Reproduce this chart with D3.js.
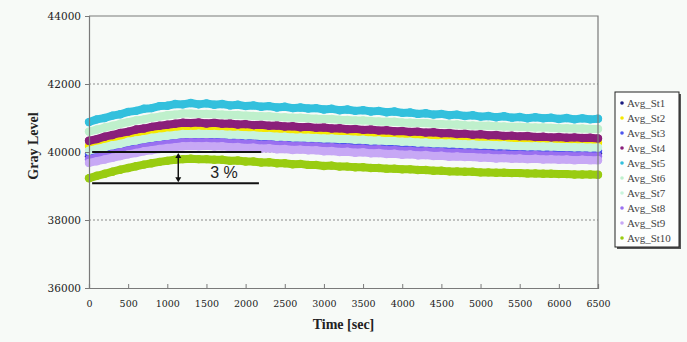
<!DOCTYPE html>
<html>
<head>
<meta charset="utf-8">
<script src="https://cdn.jsdelivr.net/npm/d3@7"></script>
<style>
  html, body { margin: 0; padding: 0; background: #f7faf7; }
  svg { display: block; }
</style>
</head>
<body>
<div id="chart"></div>
<script>
// time axis, one reading every 100 s
const times = d3.range(0, 6501, 100);

const seriesNames = ['Avg_St1', 'Avg_St2', 'Avg_St3', 'Avg_St4', 'Avg_St5',
  'Avg_St6', 'Avg_St7', 'Avg_St8', 'Avg_St9', 'Avg_St10'];
const seriesColors = ['#1a1a80', '#f5e800', '#4d55ee', '#8a1f7a', '#33c0dd',
  '#bff0cc', '#c8f4dc', '#9a70f0', '#c7a8f5', '#99cc11'];

const st1 = [39870, 39920, 39980, 40030, 40080, 40130, 40170, 40220, 40250, 40290, 40320, 40340, 40370, 40380, 40370, 40380, 40360, 40370, 40340, 40350, 40320, 40330, 40300, 40310, 40280, 40290, 40260, 40270, 40250, 40250, 40220, 40230, 40200, 40210, 40180, 40190, 40160, 40170, 40140, 40150, 40120, 40130, 40100, 40110, 40080, 40090, 40060, 40070, 40050, 40050, 40030, 40030, 40010, 40020, 40000, 40010, 39990, 40000, 39980, 39990, 39970, 39980, 39960, 39970, 39960, 39960];
const st2 = [40180, 40230, 40290, 40340, 40390, 40440, 40480, 40520, 40560, 40590, 40620, 40650, 40670, 40680, 40680, 40670, 40670, 40660, 40650, 40650, 40630, 40630, 40610, 40610, 40590, 40590, 40570, 40570, 40560, 40550, 40540, 40540, 40520, 40520, 40500, 40500, 40480, 40480, 40460, 40460, 40440, 40440, 40420, 40420, 40400, 40400, 40390, 40380, 40370, 40370, 40350, 40350, 40340, 40340, 40320, 40320, 40310, 40310, 40300, 40300, 40290, 40290, 40280, 40280, 40270, 40270];
const st3 = [39950, 40000, 40060, 40110, 40160, 40210, 40250, 40300, 40330, 40370, 40400, 40420, 40450, 40460, 40450, 40460, 40440, 40450, 40420, 40430, 40400, 40410, 40380, 40390, 40360, 40370, 40340, 40350, 40330, 40330, 40300, 40310, 40280, 40290, 40260, 40270, 40240, 40250, 40220, 40230, 40200, 40210, 40180, 40190, 40160, 40170, 40140, 40150, 40130, 40130, 40110, 40110, 40090, 40100, 40080, 40090, 40070, 40080, 40060, 40070, 40050, 40060, 40040, 40050, 40040, 40040];
const st4 = [40330, 40380, 40450, 40500, 40560, 40600, 40660, 40690, 40740, 40770, 40800, 40830, 40860, 40850, 40870, 40840, 40860, 40830, 40840, 40810, 40820, 40790, 40800, 40770, 40780, 40750, 40760, 40730, 40740, 40710, 40720, 40690, 40700, 40670, 40680, 40650, 40660, 40630, 40640, 40610, 40620, 40590, 40600, 40570, 40580, 40550, 40560, 40530, 40540, 40510, 40520, 40490, 40500, 40470, 40480, 40460, 40470, 40440, 40450, 40430, 40440, 40420, 40430, 40410, 40420, 40400];
const st5 = [40880, 40960, 41000, 41070, 41110, 41180, 41210, 41270, 41290, 41350, 41360, 41410, 41400, 41440, 41400, 41430, 41390, 41410, 41370, 41390, 41350, 41370, 41330, 41350, 41310, 41330, 41290, 41310, 41280, 41290, 41250, 41270, 41230, 41250, 41210, 41230, 41190, 41210, 41170, 41190, 41150, 41160, 41120, 41140, 41100, 41120, 41080, 41100, 41060, 41080, 41040, 41060, 41020, 41050, 41010, 41030, 40990, 41020, 40990, 41010, 40970, 41000, 40960, 40990, 40960, 40980];
const st6 = [40600, 40660, 40720, 40770, 40830, 40880, 40930, 40960, 41010, 41040, 41080, 41100, 41130, 41130, 41120, 41120, 41110, 41100, 41090, 41090, 41070, 41060, 41050, 41050, 41030, 41020, 41010, 41010, 40990, 40980, 40970, 40970, 40950, 40940, 40930, 40930, 40910, 40900, 40890, 40890, 40870, 40860, 40850, 40850, 40830, 40820, 40810, 40810, 40790, 40780, 40770, 40770, 40760, 40750, 40740, 40740, 40730, 40720, 40720, 40710, 40700, 40700, 40690, 40690, 40680, 40680];
const st7 = [40040, 40090, 40140, 40200, 40240, 40300, 40340, 40380, 40420, 40450, 40480, 40500, 40530, 40530, 40540, 40530, 40530, 40520, 40510, 40510, 40490, 40490, 40470, 40470, 40450, 40450, 40430, 40430, 40420, 40410, 40400, 40400, 40380, 40380, 40360, 40360, 40340, 40340, 40320, 40320, 40300, 40300, 40280, 40280, 40260, 40260, 40250, 40240, 40230, 40230, 40210, 40210, 40200, 40200, 40180, 40180, 40170, 40170, 40160, 40160, 40150, 40150, 40140, 40140, 40130, 40130];
const st8 = [39780, 39830, 39890, 39940, 39990, 40040, 40080, 40130, 40160, 40200, 40230, 40250, 40280, 40290, 40280, 40290, 40270, 40280, 40250, 40260, 40230, 40240, 40210, 40220, 40190, 40200, 40170, 40180, 40160, 40160, 40130, 40140, 40110, 40120, 40090, 40100, 40070, 40080, 40050, 40060, 40030, 40040, 40010, 40020, 39990, 40000, 39970, 39980, 39960, 39960, 39940, 39940, 39920, 39930, 39910, 39920, 39900, 39910, 39890, 39900, 39880, 39890, 39870, 39880, 39870, 39870];
const st9 = [39680, 39730, 39780, 39830, 39880, 39930, 39970, 40020, 40050, 40090, 40120, 40140, 40170, 40180, 40170, 40180, 40160, 40170, 40140, 40150, 40120, 40130, 40100, 40110, 40080, 40090, 40060, 40070, 40050, 40050, 40020, 40030, 40000, 40010, 39980, 39990, 39960, 39970, 39940, 39950, 39920, 39930, 39900, 39910, 39880, 39890, 39860, 39870, 39850, 39850, 39830, 39830, 39810, 39820, 39800, 39810, 39790, 39800, 39780, 39790, 39770, 39780, 39760, 39770, 39760, 39760];
const st10 = [39230, 39300, 39360, 39420, 39480, 39530, 39580, 39630, 39670, 39710, 39740, 39770, 39790, 39800, 39790, 39790, 39770, 39770, 39740, 39750, 39720, 39720, 39690, 39700, 39670, 39670, 39640, 39650, 39620, 39620, 39590, 39600, 39570, 39570, 39550, 39550, 39530, 39530, 39510, 39510, 39490, 39490, 39470, 39470, 39450, 39450, 39430, 39430, 39420, 39420, 39400, 39400, 39390, 39390, 39380, 39380, 39370, 39370, 39360, 39360, 39350, 39350, 39340, 39340, 39340, 39330];

const seriesValues = [st1, st2, st3, st4, st5, st6, st7, st8, st9, st10];

const xTicks = d3.range(0, 6501, 500);
const yTicks = [36000, 38000, 40000, 42000, 44000];
const gridValues = [38000, 40000, 42000];

// the "3 %" marker lines (time from/to, level)
const markTop = { t0: 40, t1: 2200, v: 40000 };
const markBottom = { t0: 40, t1: 2170, v: 39080 };

const width = 687;
const height = 342;
const margin = { top: 16, right: 89, bottom: 54, left: 89 };

const svg = d3.select('#chart')
  .append('svg')
  .attr('width', width)
  .attr('height', height);

const x = d3.scaleLinear()
  .domain([0, 6500])
  .range([margin.left, width - margin.right]);

const y = d3.scaleLinear()
  .domain([36000, 44000])
  .range([height - margin.bottom, margin.top]);

// gridlines
svg.append('g')
  .selectAll('line')
  .data(gridValues)
  .join('line')
  .attr('x1', x(0))
  .attr('x2', x(6500))
  .attr('y1', d => y(d))
  .attr('y2', d => y(d))
  .attr('stroke', '#8a8a8a')
  .attr('stroke-width', 1)
  .attr('stroke-dasharray', '2,2');

// series, drawn as fat dotted bands
const line = d3.line()
  .x((d, i) => x(times[i]))
  .y(d => y(d));

const bands = svg.append('g');
seriesValues.forEach((vals, k) => {
  const g = bands.append('g');
  g.append('path')
    .attr('d', line(vals))
    .attr('fill', 'none')
    .attr('stroke', seriesColors[k])
    .attr('stroke-width', 8)
    .attr('stroke-linejoin', 'round')
    .attr('stroke-linecap', 'round');
  g.selectAll('circle')
    .data(vals)
    .join('circle')
    .attr('cx', (d, i) => x(times[i]))
    .attr('cy', d => y(d))
    .attr('r', 4.2)
    .attr('fill', seriesColors[k]);
});

// frame: top and right borders
svg.append('path')
  .attr('d', `M${x(0)},${y(44000)}H${x(6500)}V${y(36000)}`)
  .attr('fill', 'none')
  .attr('stroke', '#7a7a7a')
  .attr('stroke-width', 1.2);

// axes
const xAxis = svg.append('g')
  .attr('transform', `translate(0,${y(36000)})`)
  .call(d3.axisBottom(x).tickValues(xTicks).tickSize(-4).tickPadding(12).tickFormat(d3.format('d')));
xAxis.select('.domain').attr('stroke', '#7a7a7a').attr('stroke-width', 1.2);
xAxis.selectAll('.tick line').attr('stroke', '#7a7a7a');
xAxis.selectAll('text')
  .attr('font-family', '"DejaVu Serif", serif')
  .attr('font-size', 9.5)
  .attr('fill', '#222');

const yAxis = svg.append('g')
  .attr('transform', `translate(${x(0)},0)`)
  .call(d3.axisLeft(y).tickValues(yTicks).tickSize(4).tickPadding(4).tickFormat(d3.format('d')));
yAxis.select('.domain').attr('stroke', '#7a7a7a').attr('stroke-width', 1.2);
yAxis.selectAll('.tick line').attr('stroke', '#7a7a7a');
yAxis.selectAll('text')
  .attr('font-family', '"DejaVu Serif", serif')
  .attr('font-size', 10.5)
  .attr('fill', '#222');

// axis titles
svg.append('text')
  .attr('x', (x(0) + x(6500)) / 2)
  .attr('y', 329)
  .attr('text-anchor', 'middle')
  .attr('font-family', '"Liberation Serif", serif')
  .attr('font-weight', 'bold')
  .attr('font-size', 14)
  .attr('fill', '#222')
  .text('Time [sec]');

svg.append('text')
  .attr('transform', `translate(38,${(y(36000) + y(44000)) / 2 - 6}) rotate(-90)`)
  .attr('text-anchor', 'middle')
  .attr('font-family', '"Liberation Serif", serif')
  .attr('font-weight', 'bold')
  .attr('font-size', 14)
  .attr('fill', '#222')
  .text('Gray Level');

// 3 % annotation
const ann = svg.append('g').attr('stroke', '#111').attr('stroke-width', 2);
[markTop, markBottom].forEach(m => {
  ann.append('line')
    .attr('x1', x(m.t0)).attr('x2', x(m.t1))
    .attr('y1', y(m.v)).attr('y2', y(m.v));
});
const arrowX = x(1140);
ann.append('line')
  .attr('x1', arrowX).attr('x2', arrowX)
  .attr('y1', y(markTop.v) + 4).attr('y2', y(markBottom.v) - 4)
  .attr('stroke-width', 1.5);
svg.append('path')
  .attr('d', `M${arrowX - 3},${y(markTop.v) + 6}L${arrowX},${y(markTop.v) + 1}L${arrowX + 3},${y(markTop.v) + 6}Z`)
  .attr('fill', '#111');
svg.append('path')
  .attr('d', `M${arrowX - 3},${y(markBottom.v) - 6}L${arrowX},${y(markBottom.v) - 1}L${arrowX + 3},${y(markBottom.v) - 6}Z`)
  .attr('fill', '#111');
svg.append('text')
  .attr('x', 224)
  .attr('y', 178)
  .attr('text-anchor', 'middle')
  .attr('font-family', '"Liberation Sans", Arial, sans-serif')
  .attr('font-size', 16)
  .attr('fill', '#222')
  .text('3 %');

// legend
const legend = svg.append('g').attr('transform', 'translate(615,92)');
legend.append('rect')
  .attr('x', 2).attr('y', 2)
  .attr('width', 64).attr('height', 155)
  .attr('fill', '#555');
legend.append('rect')
  .attr('width', 64).attr('height', 155)
  .attr('fill', '#fdfefd')
  .attr('stroke', '#222')
  .attr('stroke-width', 1);
const items = legend.selectAll('g.item')
  .data(seriesNames)
  .join('g')
  .attr('class', 'item')
  .attr('transform', (d, i) => `translate(0,${11 + i * 15})`);
items.append('circle')
  .attr('cx', 7).attr('cy', 0)
  .attr('r', 1.8)
  .attr('fill', (d, i) => seriesColors[i]);
items.append('text')
  .attr('x', 12).attr('y', 3.5)
  .attr('font-family', '"Liberation Serif", serif')
  .attr('font-size', 11)
  .attr('fill', '#444')
  .text(d => d);
</script>
</body>
</html>
